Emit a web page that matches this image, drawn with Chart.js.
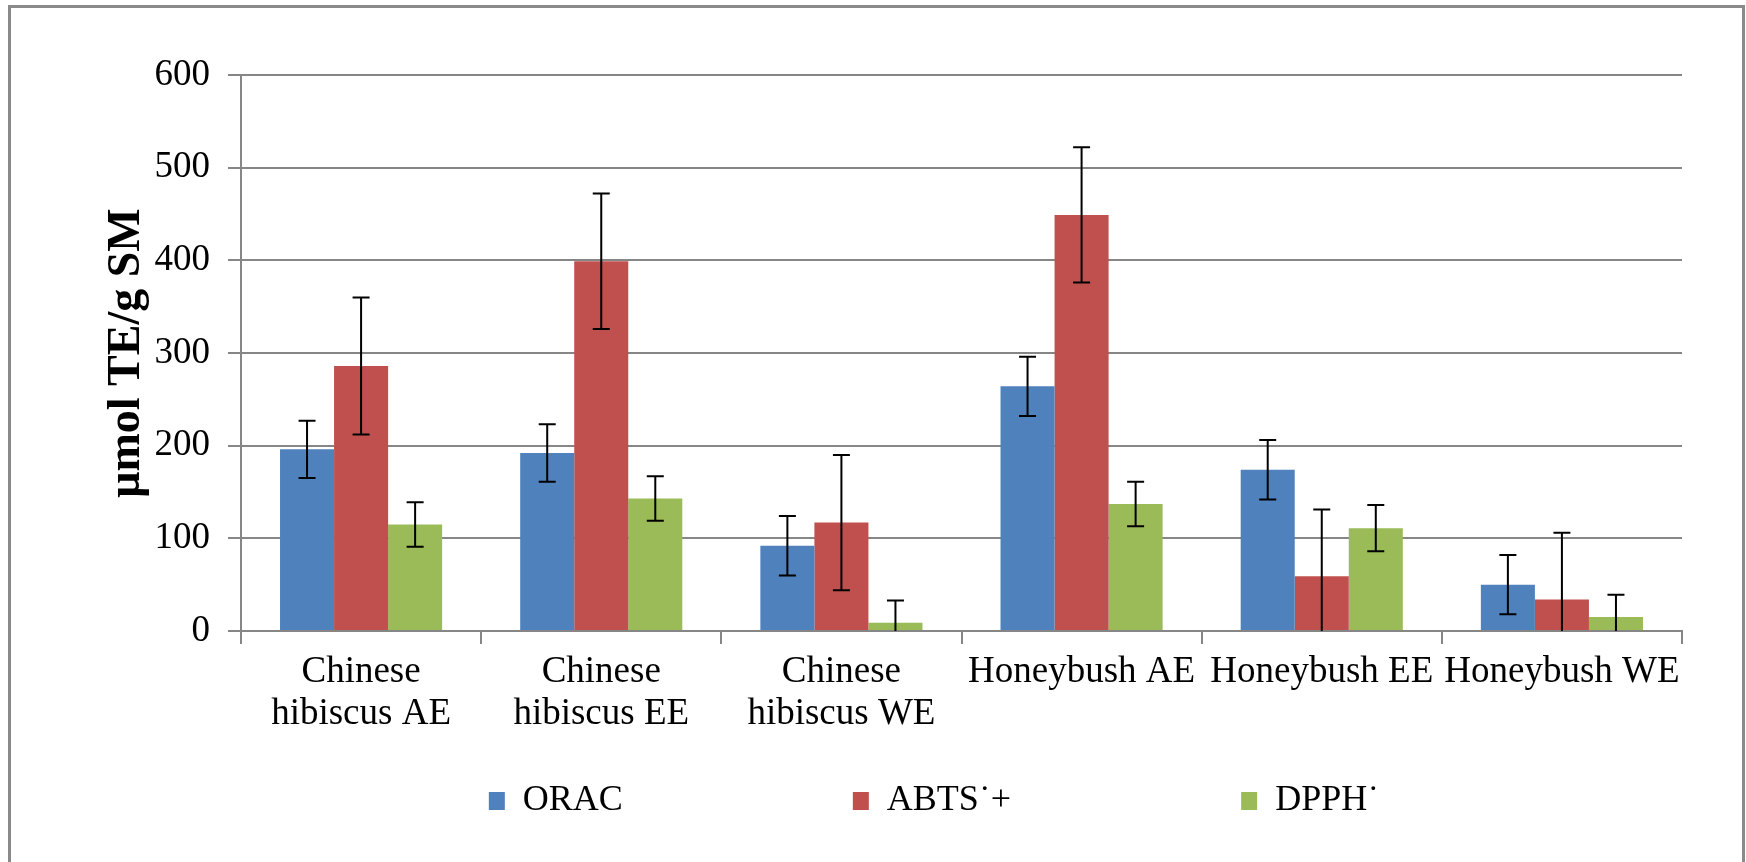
<!DOCTYPE html>
<html>
<head>
<meta charset="utf-8">
<script src="https://cdn.jsdelivr.net/npm/chart.js@4.4.1/dist/chart.umd.min.js"></script>
<style>
  html, body { margin: 0; padding: 0; background: #fff; overflow: hidden; }
  #frame { position: absolute; left: 8px; top: 5px; width: 1737px; height: 900px; border: 3px solid #8a8a8a; box-sizing: border-box; }
  #wrap { position: absolute; left: 0; top: 0; width: 1746px; height: 862px; }
</style>
</head>
<body>
<div id="frame"></div>
<div id="wrap"><canvas id="chart" width="1746" height="862"></canvas></div>
<script>
// categories (two-line labels where the original wraps)
const categories = [
  ['Chinese', 'hibiscus AE'],
  ['Chinese', 'hibiscus EE'],
  ['Chinese', 'hibiscus WE'],
  'Honeybush AE',
  'Honeybush EE',
  'Honeybush WE'
];
const seriesNames = ['ORAC', 'ABTS\u02D9+', 'DPPH\u02D9'];

// values in µmol TE/g SM
const oracValues = [196, 192, 92, 264, 174, 50];
const oracErrors = [31, 31, 32, 32, 32, 32];
const abtsValues = [286, 399, 117, 449, 59, 34];
const abtsErrors = [74, 73, 73, 73, 72, 72];
const dpphValues = [115, 143, 9, 137, 111, 15];
const dpphErrors = [24, 24, 24, 24, 25, 24];

const yMin = 0, yMax = 600, yStep = 100;

const FONT = "'Liberation Serif', 'Times New Roman', serif";
const GRID = '#868686';

// error bars drawn from the y scale
const errorBars = {
  id: 'errorBars',
  afterDatasetsDraw(chart) {
    const ctx = chart.ctx;
    const y = chart.scales.y;
    ctx.save();
    ctx.strokeStyle = '#000';
    ctx.lineWidth = 2;
    chart.data.datasets.forEach((ds, i) => {
      const meta = chart.getDatasetMeta(i);
      meta.data.forEach((bar, j) => {
        const v = ds.data[j], e = ds.errors[j];
        const top = y.getPixelForValue(v + e);
        const bot = y.getPixelForValue(Math.max(yMin, v - e));
        const cap = 8.5;
        ctx.beginPath();
        ctx.moveTo(bar.x, top); ctx.lineTo(bar.x, bot);
        ctx.moveTo(bar.x - cap, top); ctx.lineTo(bar.x + cap, top);
        if (v - e > yMin) { ctx.moveTo(bar.x - cap, bot); ctx.lineTo(bar.x + cap, bot); }
        ctx.stroke();
      });
    });
    ctx.restore();
  }
};

new Chart(document.getElementById('chart'), {
  type: 'bar',
  data: {
    labels: categories,
    datasets: [
      { label: seriesNames[0], data: oracValues, errors: oracErrors, backgroundColor: '#4F81BD' },
      { label: seriesNames[1], data: abtsValues, errors: abtsErrors, backgroundColor: '#C0504D' },
      { label: seriesNames[2], data: dpphValues, errors: dpphErrors, backgroundColor: '#9BBB59' }
    ]
  },
  options: {
    responsive: false,
    animation: false,
    devicePixelRatio: 1,
    categoryPercentage: 0.675,
    barPercentage: 1.0,
    layout: { padding: { left: 150, right: 28, top: 75, bottom: 33 } },
    plugins: {
      tooltip: { enabled: false },
      legend: {
        position: 'bottom',
        // empty title with negative padding cancels the vertical part of the wide item padding
        title: { display: true, text: '', font: { size: 1, lineHeight: 1 }, padding: { top: -231, bottom: 0 } },
        labels: {
          font: { family: FONT, size: 36, lineHeight: 1.2 },
          color: '#000',
          boxWidth: 16,
          boxHeight: 18,
          padding: 230
        }
      }
    },
    scales: {
      x: {
        grid: { display: true, drawOnChartArea: false, drawTicks: true, tickLength: 13, color: GRID, lineWidth: 2, offset: true },
        border: { color: GRID, width: 2 },
        ticks: {
          font: { family: FONT, size: 37, lineHeight: 1.12 },
          color: '#000',
          padding: 8,
          maxRotation: 0,
          autoSkip: false
        },
        afterFit: (s) => { s.height = 152; }
      },
      y: {
        min: yMin,
        max: yMax,
        ticks: { stepSize: yStep, font: { family: FONT, size: 37 }, color: '#000', padding: 18 },
        grid: { color: GRID, lineWidth: 2, tickLength: 13 },
        border: { color: GRID, width: 2 },
        title: {
          display: true,
          text: '\u03BCmol TE/g SM',
          font: { family: FONT, size: 46, weight: 'bold', lineHeight: 1.2 },
          color: '#000',
          padding: { top: -50, bottom: 0 }
        },
        afterFit: (s) => { s.width = 91; }
      },
      // empty right-hand spacer so the legend centres where the original has it
      spacer: {
        type: 'linear',
        position: 'right',
        grid: { display: false },
        ticks: { display: false },
        border: { display: false },
        afterFit: (s) => { s.width = 36; }
      }
    }
  },
  plugins: [errorBars]
});
</script>
</body>
</html>
